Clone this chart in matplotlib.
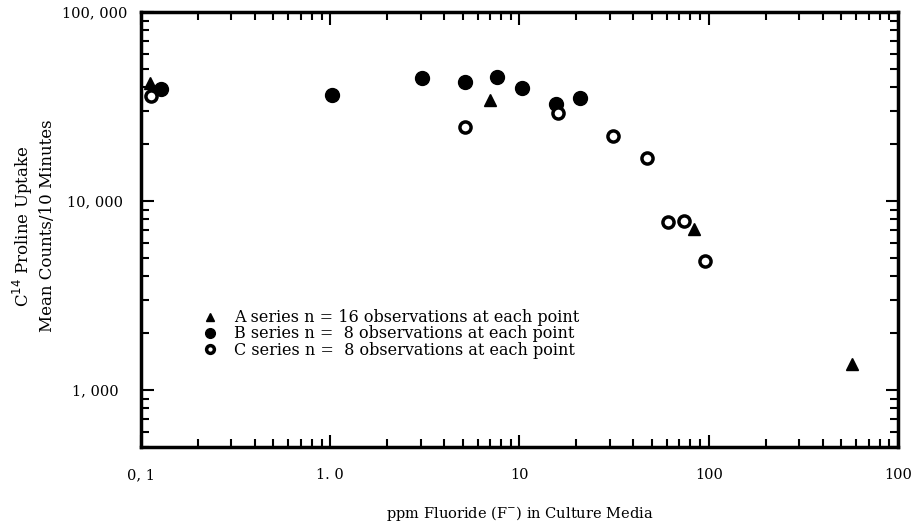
import numpy as np
import matplotlib.pyplot as plt
from matplotlib.ticker import FixedLocator, LogLocator, NullFormatter

# A series (triangles)
a_x = [0.112, 7.0, 84, 570]
a_y = [42300, 34400, 7130, 1370]

# B series (filled dots)
b_x = [0.127, 1.02, 3.04, 5.13, 7.65, 10.3, 15.5, 21]
b_y = [39300, 36600, 45000, 42900, 45500, 39800, 32800, 35300]

# C series (open circles)
c_x = [0.113, 5.13, 15.9, 31.3, 47.3, 61, 74.3, 96]
c_y = [36100, 24800, 29100, 22200, 16800, 7740, 7800, 4830]

x_ticks = [0.1, 1, 10, 100, 1000]
x_labels = ['0, 1', '1. 0', '10', '100', '100']
y_ticks = [1000, 10000, 100000]
y_labels = ['1, 000', '10, 000', '100, 000']

plt.rcParams['font.family'] = ['DejaVu Serif']

fig = plt.figure(figsize=(9.13, 5.25), dpi=100)
ax = fig.add_axes([0.1544, 0.1486, 0.8292, 0.8284])

ax.plot(a_x, a_y, linestyle='none', marker='^', markersize=9, color='black',
        label='A series n = 16 observations at each point')
ax.plot(b_x, b_y, linestyle='none', marker='o', markersize=10, color='black',
        label='B series n =  8 observations at each point')
ax.plot(c_x, c_y, linestyle='none', marker='o', markersize=8, markerfacecolor='white',
        markeredgecolor='black', markeredgewidth=2.5,
        label='C series n =  8 observations at each point')

ax.set_xscale('log')
ax.set_yscale('log')
ax.set_xlim(0.1, 1000)
ax.set_ylim(500, 100000)

ax.xaxis.set_major_locator(FixedLocator(x_ticks))
ax.set_xticklabels(x_labels)
ax.yaxis.set_major_locator(FixedLocator(y_ticks))
ax.set_yticklabels(y_labels, ha='center')
ax.xaxis.set_minor_locator(LogLocator(base=10, subs=np.arange(2, 10)))
ax.yaxis.set_minor_locator(LogLocator(base=10, subs=np.arange(2, 10)))
ax.xaxis.set_minor_formatter(NullFormatter())
ax.yaxis.set_minor_formatter(NullFormatter())

ax.tick_params(which='both', direction='in', top=True, right=True, width=1.5)
ax.tick_params(which='major', length=9, labelsize=10.5)
ax.tick_params(which='minor', length=6)
ax.tick_params(axis='x', which='major', pad=15)
ax.tick_params(axis='y', which='major', pad=33)
for s in ax.spines.values():
    s.set_linewidth(2.5)

ax.set_xlabel('ppm Fluoride (F$^{-}$) in Culture Media', fontsize=10.5, labelpad=16)
ax.set_ylabel('C$^{14}$ Proline Uptake\nMean Counts/10 Minutes', fontsize=12, linespacing=1.3)
ax.yaxis.set_label_coords(-0.112, 0.508)

ax.legend(loc='upper left', bbox_to_anchor=(0.062, 0.35), frameon=False, fontsize=11.5,
          handlelength=1.0, handletextpad=1.0, labelspacing=-0.05, markerscale=0.7)

fig.savefig('out.png', dpi=100)
